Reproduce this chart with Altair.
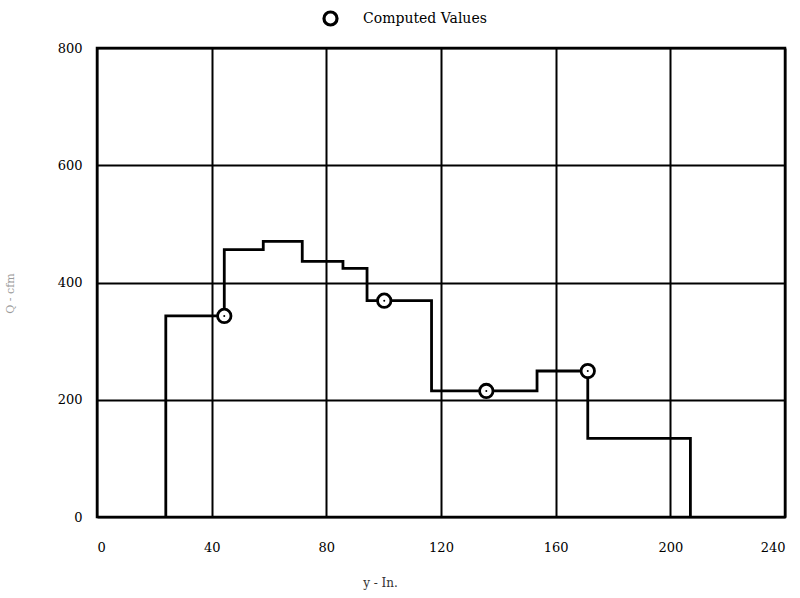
import altair as alt
import pandas as pd

# Step curve breakpoints (y in inches, Q in cfm) - step-after
step_x = [24, 24, 44.4, 58, 71.6, 85.8, 94.2, 116.7, 153.5, 171.2, 207]
step_q = [0, 343, 456, 470, 436, 424, 369, 215, 249, 134, 0]

# Computed values (circles)
pt_x = [44.4, 100.2, 135.8, 171.2]
pt_q = [343, 369, 215, 249]
pt_label = ["Computed Values"] * 4

x_ticks = [0, 40, 80, 120, 160, 200, 240]
y_ticks = [0, 200, 400, 600, 800]

FONT = "DejaVu Serif"

step_df = pd.DataFrame({"x": step_x, "q": step_q, "i": list(range(len(step_x)))})
pt_df = pd.DataFrame({"x": pt_x, "q": pt_q, "s": pt_label})

xscale = alt.Scale(domain=[0, 240], nice=False, zero=False)
yscale = alt.Scale(domain=[0, 800], nice=False, zero=False)

xaxis = alt.Axis(values=x_ticks, title="y - In.", grid=True, gridColor="black",
                 gridWidth=2, gridOpacity=1, domain=False, ticks=False,
                 labelFont=FONT, labelFontSize=13, labelColor="black",
                 labelPadding=24, titleFont=FONT, titleFontSize=12,
                 titleFontWeight="normal", titleColor="#333333",
                 titleX=283, titleY=60)
yaxis = alt.Axis(values=y_ticks, title="Q - cfm", grid=True, gridColor="black",
                 gridWidth=2, gridOpacity=1, domain=False, ticks=False,
                 labelFont=FONT, labelFontSize=13, labelColor="black",
                 labelPadding=15, titleFont=FONT, titleFontSize=11,
                 titleFontWeight="normal", titleColor="#9a9a9a",
                 titleX=-82, titleY=245)

line = alt.Chart(step_df).mark_line(
    interpolate="step-after", color="black", strokeWidth=2.8
).encode(
    x=alt.X("x:Q", scale=xscale, axis=xaxis),
    y=alt.Y("q:Q", scale=yscale, axis=yaxis),
    order="i:Q",
)

legend = alt.Legend(orient="none", legendX=225, legendY=-38,
                    title=None, labelFont=FONT,
                    labelFontSize=14, labelColor="black",
                    labelOffset=24, symbolSize=170,
                    symbolType="circle",
                    symbolStrokeWidth=3.2,
                    symbolStrokeColor="black",
                    symbolFillColor="white", symbolOpacity=1)

circles = alt.Chart(pt_df).mark_point(
    filled=False, fill="white", fillOpacity=1,
    strokeWidth=2.8, size=180, opacity=1
).encode(
    x=alt.X("x:Q", scale=xscale),
    y=alt.Y("q:Q", scale=yscale),
    stroke=alt.Stroke("s:N", scale=alt.Scale(range=["black"]), legend=legend),
)

dots = alt.Chart(pt_df).mark_point(
    filled=True, color="black", size=4, opacity=1
).encode(
    x=alt.X("x:Q", scale=xscale),
    y=alt.Y("q:Q", scale=yscale),
)

chart = alt.layer(line, circles, dots).properties(
    width=688, height=469,
    padding={"left": 97, "top": 48, "right": 15, "bottom": 81},
    autosize=alt.AutoSizeParams(type="none"),
    background="white",
).configure_view(stroke="black", strokeWidth=2.5)

chart.save("out.html", embed_options={"renderer": "svg", "actions": False})
